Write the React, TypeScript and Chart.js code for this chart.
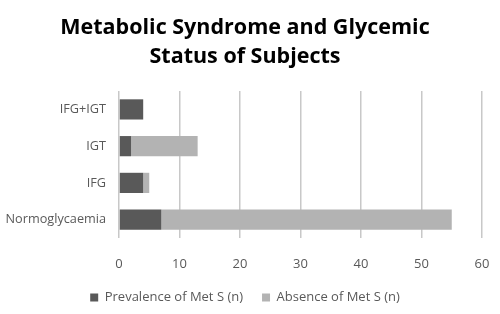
import React, { useEffect, useRef } from "react";
import { Chart, registerables } from "chart.js";

Chart.register(...registerables);

const categories = ["IFG+IGT", "IGT", "IFG", "Normoglycaemia"];
const prevalence = [4, 2, 4, 7];
const absence = [0, 11, 1, 48];
const seriesNames = ["Prevalence of Met S (n)", "Absence of Met S (n)"];
const titleLines = ["Metabolic Syndrome and Glycemic", "Status of Subjects"];
const xTicks = { min: 0, max: 60, step: 10 };

const FONT = "'Open Sans', 'DejaVu Sans', sans-serif";

export default function App() {
  const ref = useRef<HTMLCanvasElement | null>(null);

  useEffect(() => {
    document.body.style.margin = "0";
    const canvas = ref.current;
    if (!canvas) return;
    const chart = new Chart(canvas, {
      type: "bar",
      data: {
        labels: categories,
        datasets: [
          {
            label: seriesNames[0],
            data: prevalence,
            backgroundColor: "#595959",
            barPercentage: 0.55,
            categoryPercentage: 1,
          },
          {
            label: seriesNames[1],
            data: absence,
            backgroundColor: "#b3b3b3",
            barPercentage: 0.55,
            categoryPercentage: 1,
          },
        ],
      },
      options: {
        indexAxis: "y",
        responsive: false,
        animation: false,
        layout: { padding: { left: 0, right: 10, top: 0, bottom: 0 } },
        plugins: {
          tooltip: { enabled: false },
          title: {
            display: true,
            text: titleLines,
            color: "#000000",
            font: { family: FONT, size: 21.5, weight: "bold", lineHeight: 1.35 },
            padding: { top: 13, bottom: 20 },
          },
          legend: {
            position: "bottom",
            labels: {
              boxWidth: 8,
              boxHeight: 8,
              color: "#595959",
              padding: 19,
              font: { family: FONT, size: 13 },
            },
          },
        },
        scales: {
          x: {
            stacked: true,
            min: xTicks.min,
            max: xTicks.max,
            afterFit: (s: any) => {
              s.height = 34;
              s.paddingRight = 18;
            },
            ticks: {
              stepSize: xTicks.step,
              color: "#595959",
              padding: 18,
              font: { family: FONT, size: 13 },
            },
            grid: { color: "#c8c8c8", lineWidth: 1.5, drawTicks: false },
            border: { display: false },
          },
          y: {
            stacked: true,
            afterFit: (s: any) => {
              s.width = 119;
            },
            ticks: {
              color: "#595959",
              padding: 13,
              font: { family: FONT, size: 12.7 },
            },
            grid: { display: false, drawTicks: false },
            border: { display: false },
          },
        },
      },
    });
    return () => chart.destroy();
  }, []);

  return <canvas ref={ref} width={500} height={314} />;
}
